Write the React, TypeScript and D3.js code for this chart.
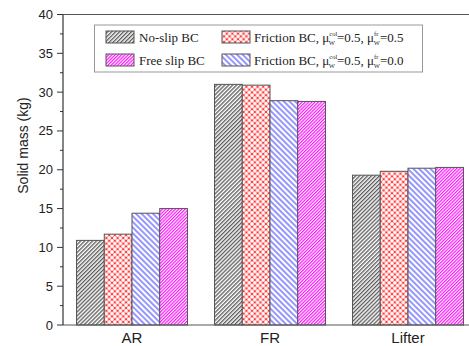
import React from 'react';
import * as d3 from 'd3';

const categories = ['AR', 'FR', 'Lifter'];
const seriesKeys = ['noslip', 'fric55', 'fric50', 'freeslip'];
const noSlip = [10.9, 31.0, 19.3];
const friction55 = [11.7, 30.9, 19.8];
const friction50 = [14.4, 28.9, 20.2];
const freeSlip = [15.0, 28.8, 20.3];
const yTicks = [0, 5, 10, 15, 20, 25, 30, 35, 40];

const seriesValues: Record<string, number[]> = {
  noslip: noSlip,
  fric55: friction55,
  fric50: friction50,
  freeslip: freeSlip,
};

const width = 469;
const height = 346;
const margin = { top: 14.5, left: 63, bottom: 21 };

// mu with stacked superscript / W subscript
const Mu = ({ sup, rest }: { sup: string; rest: string }) => {
  const supW = sup.length === 3 ? 8.4 : 4.6;
  const subW = 6.4;
  return (
    <>
      <tspan>μ</tspan>
      <tspan dy={-5.5} fontSize={6.5}>{sup}</tspan>
      <tspan dx={-supW} dy={9} fontSize={6.5}>W</tspan>
      <tspan dx={Math.max(supW - subW, 0)} dy={-3.5}>{rest}</tspan>
    </>
  );
};

export default function App() {
  const y0 = height - margin.bottom;
  const y = d3.scaleLinear().domain([0, 40]).range([y0, margin.top]);
  const x = d3
    .scaleBand<string>()
    .domain(categories)
    .range([margin.left, margin.left + 414])
    .paddingInner(0.196)
    .paddingOuter(0.098);
  const xs = d3.scaleBand<string>().domain(seriesKeys).range([0, x.bandwidth()]);
  const minorTicks = d3.range(0, 40.01, 2.5);

  const fills: Record<string, string> = {
    noslip: 'url(#pGray)',
    fric55: 'url(#pRed)',
    fric50: 'url(#pBlue)',
    freeslip: 'url(#pMag)',
  };

  const legendItems = [
    { key: 'noslip', x: 106, y: 31 },
    { key: 'fric55', x: 222, y: 31 },
    { key: 'freeslip', x: 106, y: 54 },
    { key: 'fric50', x: 222, y: 54 },
  ];

  return (
    <svg width={width} height={height} style={{ position: 'absolute', left: 0, top: 0, background: '#fff' }}>
      <defs>
        <pattern id="pGray" width={2.8} height={10} patternUnits="userSpaceOnUse" patternTransform="rotate(45)">
          <rect width={2.8} height={10} fill="#fff" />
          <line x1={0.7} y1={0} x2={0.7} y2={10} stroke="#4a4a4a" strokeWidth={1.2} />
        </pattern>
        <pattern id="pMag" width={2.3} height={10} patternUnits="userSpaceOnUse" patternTransform="rotate(45)">
          <rect width={2.3} height={10} fill="#fff" />
          <line x1={0.6} y1={0} x2={0.6} y2={10} stroke="#f0f" strokeWidth={1.1} />
        </pattern>
        <pattern id="pBlue" width={4} height={10} patternUnits="userSpaceOnUse" patternTransform="rotate(-45)">
          <rect width={4} height={10} fill="#fff" />
          <line x1={1} y1={0} x2={1} y2={10} stroke="#5050ff" strokeWidth={1.2} />
        </pattern>
        <pattern id="pRed" width={5.6} height={5.6} patternUnits="userSpaceOnUse">
          <rect width={5.6} height={5.6} fill="#ff3a3a" />
          <circle cx={2.8} cy={2.8} r={1.8} fill="#fff" />
          <circle cx={0} cy={0} r={1.8} fill="#fff" />
          <circle cx={5.6} cy={0} r={1.8} fill="#fff" />
          <circle cx={0} cy={5.6} r={1.8} fill="#fff" />
          <circle cx={5.6} cy={5.6} r={1.8} fill="#fff" />
        </pattern>
      </defs>

      {/* bars */}
      {categories.map((c, i) =>
        seriesKeys.map((k) => (
          <rect
            key={c + k}
            x={(x(c) ?? 0) + (xs(k) ?? 0)}
            y={y(seriesValues[k][i])}
            width={xs.bandwidth()}
            height={y0 - y(seriesValues[k][i])}
            fill={fills[k]}
            stroke="#555"
            strokeWidth={1}
          />
        ))
      )}

      {/* frame */}
      <line x1={margin.left} x2={width} y1={margin.top} y2={margin.top} stroke="#555" strokeWidth={1.2} />
      <line x1={margin.left} x2={width} y1={y0} y2={y0} stroke="#555" strokeWidth={1.2} />
      <line x1={margin.left} x2={margin.left} y1={margin.top} y2={y0} stroke="#333" strokeWidth={1.2} />

      {/* y ticks */}
      {minorTicks.map((t) => (
        <line
          key={'m' + t}
          x1={margin.left - (t % 5 === 0 ? 6 : 3)}
          x2={margin.left}
          y1={y(t)}
          y2={y(t)}
          stroke="#333"
          strokeWidth={1}
        />
      ))}
      {yTicks.map((t) => (
        <text
          key={'t' + t}
          x={margin.left - 10}
          y={y(t)}
          dy="0.35em"
          textAnchor="end"
          fontFamily="Liberation Sans, Arial, sans-serif"
          fontSize={13}
          fill="#222"
        >
          {t}
        </text>
      ))}
      <text
        transform={`translate(23, 145.5) rotate(-90)`}
        textAnchor="middle"
        dy="0.35em"
        fontFamily="Liberation Sans, Arial, sans-serif"
        fontSize={14}
        fill="#222"
      >
        Solid mass (kg)
      </text>

      {/* x labels */}
      {categories.map((c) => (
        <text
          key={'x' + c}
          x={(x(c) ?? 0) + x.bandwidth() / 2}
          y={343}
          textAnchor="middle"
          fontFamily="Liberation Sans, Arial, sans-serif"
          fontSize={15}
          fill="#222"
        >
          {c}
        </text>
      ))}

      {/* legend */}
      <rect x={94.5} y={25} width={328} height={47} fill="#fff" stroke="#999" strokeWidth={1} />
      {legendItems.map((it) => (
        <rect key={'l' + it.key} x={it.x} y={it.y} width={28} height={12} fill={fills[it.key]} stroke="#555" strokeWidth={1} />
      ))}
      <g fontFamily="Liberation Serif, Times New Roman, serif" fontSize={13} fill="#222">
        <text x={139} y={41.5}>No-slip BC</text>
        <text x={139} y={64.5}>Free slip BC</text>
        <text x={254} y={41.5}>
          Friction BC, <Mu sup="col" rest="=0.5, " />
          <Mu sup="fr" rest="=0.5" />
        </text>
        <text x={254} y={64.5}>
          Friction BC, <Mu sup="col" rest="=0.5, " />
          <Mu sup="fr" rest="=0.0" />
        </text>
      </g>
    </svg>
  );
}
